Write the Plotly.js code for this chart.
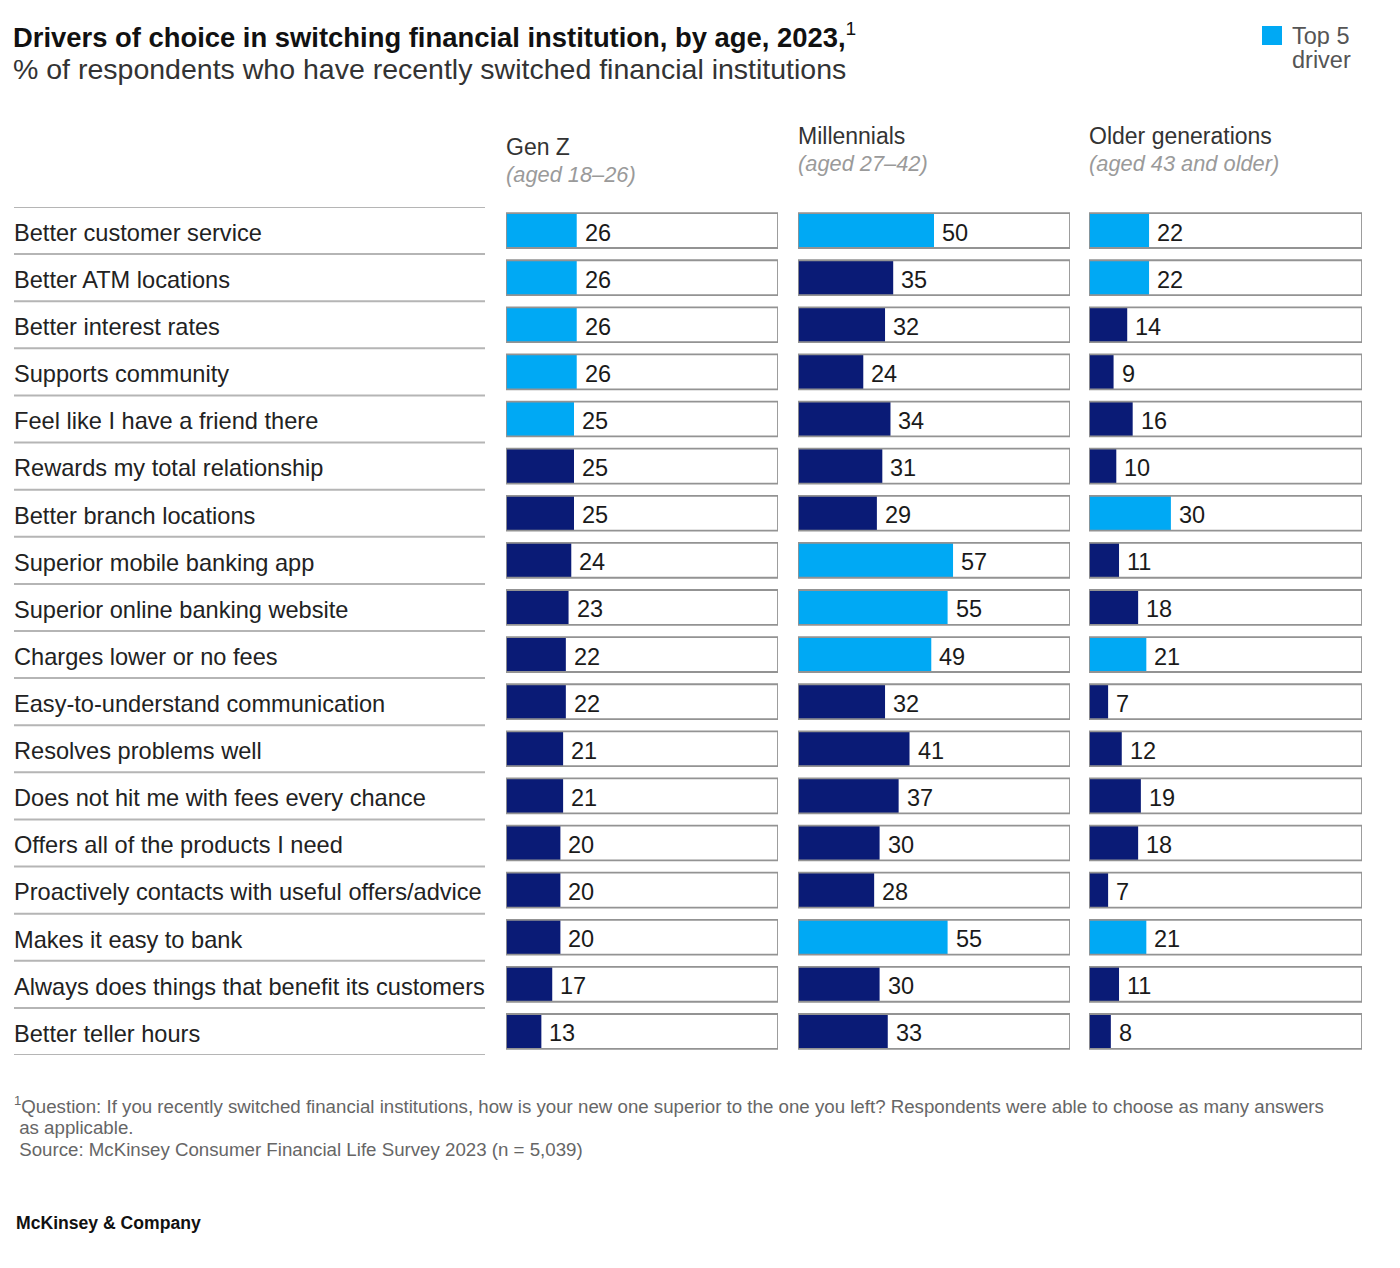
<!DOCTYPE html>
<html><head><meta charset="utf-8">
<script src="https://cdn.plot.ly/plotly-3.0.1.min.js"></script>
<style>html,body{margin:0;padding:0;background:#fff}#chart{width:1400px;height:1268px}</style>
</head><body><div id="chart"></div>
<script>
const categories = ["Better customer service","Better ATM locations","Better interest rates","Supports community","Feel like I have a friend there","Rewards my total relationship","Better branch locations","Superior mobile banking app","Superior online banking website","Charges lower or no fees","Easy-to-understand communication","Resolves problems well","Does not hit me with fees every chance","Offers all of the products I need","Proactively contacts with useful offers/advice","Makes it easy to bank","Always does things that benefit its customers","Better teller hours"];
const genZ = [26,26,26,26,25,25,25,24,23,22,22,21,21,20,20,20,17,13];
const millennials = [50,35,32,24,34,31,29,57,55,49,32,41,37,30,28,55,30,33];
const older = [22,22,14,9,16,10,30,11,18,21,7,12,19,18,7,21,11,8];
const genZTop5 = [1,1,1,1,1,0,0,0,0,0,0,0,0,0,0,0,0,0];
const millTop5 = [1,0,0,0,0,0,0,1,1,1,0,0,0,0,0,1,0,0];
const olderTop5 = [1,1,0,0,0,0,1,0,0,1,0,0,0,0,0,1,0,0];
const groups = ["Gen Z","Millennials","Older generations"];
const groupSub = ["(aged 18–26)","(aged 27–42)","(aged 43 and older)"];
const legendLines = ["Top 5","driver"];
const footnotes = ["<sup>1</sup>Question: If you recently switched financial institutions, how is your new one superior to the one you left? Respondents were able to choose as many answers",
  " as applicable.",
  " Source: McKinsey Consumer Financial Life Survey 2023 (n = 5,039)"];

const W=1400,H=1268;
const px=x=>x/W, py=y=>1-y/H;
const LIGHT="#00a9f4", DARK="#0a1b76";
const FONT="Liberation Sans, Arial, sans-serif";
const panels=[
  {vals:genZ, top:genZTop5, x0:506, x1:778, hy:[147,174]},
  {vals:millennials, top:millTop5, x0:798, x1:1070, hy:[136,164]},
  {vals:older, top:olderTop5, x0:1089, x1:1362, hy:[136,164]}
];
const idx = categories.map((_,i)=>i);
const traces=[], layout={
  width:W,height:H,margin:{l:0,r:0,t:0,b:0},paper_bgcolor:"#fff",plot_bgcolor:"rgba(0,0,0,0)",
  showlegend:false,barmode:"overlay",bargap:0.26,font:{family:FONT,color:"#222"},
  annotations:[],shapes:[]
};
panels.forEach((p,k)=>{
  const xa = k===0?"x":"x"+(k+1), ya = k===0?"y":"y"+(k+1);
  const xk = k===0?"xaxis":"xaxis"+(k+1), yk = k===0?"yaxis":"yaxis"+(k+1);
  layout[xk]={domain:[px(p.x0),px(p.x1)],range:[0,100],visible:false,fixedrange:true,anchor:ya};
  layout[yk]={domain:[py(1055),py(207)],range:[categories.length-0.5,-0.5],visible:false,fixedrange:true,anchor:xa};
  traces.push({type:"bar",orientation:"h",x:idx.map(()=>100),y:idx,xaxis:xa,yaxis:ya,
    marker:{color:"#fff",line:{width:0}},hoverinfo:"skip"});
  traces.push({type:"bar",orientation:"h",x:p.vals,y:idx,xaxis:xa,yaxis:ya,
    marker:{color:p.top.map(t=>t?LIGHT:DARK),line:{width:0}},hoverinfo:"skip"});
  traces.push({type:"bar",orientation:"h",x:idx.map(()=>100),y:idx,xaxis:xa,yaxis:ya,
    marker:{color:"rgba(0,0,0,0)",line:{width:1.8,color:"#939393"}},hoverinfo:"skip"});
  p.vals.forEach((v,i)=>{
    layout.annotations.push({xref:xa,yref:ya,x:v,y:i,xanchor:"left",yanchor:"middle",xshift:6,yshift:-2,
      text:String(v),showarrow:false,font:{size:23.5,color:"#1a1a1a",family:FONT}});
  });
  layout.annotations.push({xref:"paper",yref:"paper",x:px(p.x0-2),y:py(p.hy[0]),xanchor:"left",yanchor:"middle",
    text:groups[k],showarrow:false,font:{size:23,color:"#333",family:FONT}});
  layout.annotations.push({xref:"paper",yref:"paper",x:px(p.x0-2),y:py(p.hy[1]),xanchor:"left",yanchor:"middle",
    text:"<i>"+groupSub[k]+"</i>",showarrow:false,font:{size:21.8,color:"#9a9a9a",family:FONT}});
});
categories.forEach((c,i)=>{
  layout.annotations.push({xref:"paper",yref:"y",x:px(12),y:i+0.05,xanchor:"left",yanchor:"middle",
    text:c,showarrow:false,font:{size:23.6,color:"#222",family:FONT}});
});
for(let i=0;i<=categories.length;i++){
  layout.shapes.push({type:"line",xref:"paper",yref:"y",x0:px(14),x1:px(485),y0:i-0.5,y1:i-0.5,
    line:{color:"#b5b5b5",width:2}});
}
// titles
layout.annotations.push({xref:"paper",yref:"paper",x:px(11),y:py(35),xanchor:"left",yanchor:"middle",showarrow:false,
  text:"<b>Drivers of choice in switching financial institution, by age, 2023,</b><sup>1</sup>",font:{size:27.4,color:"#111",family:FONT}});
layout.annotations.push({xref:"paper",yref:"paper",x:px(11),y:py(69),xanchor:"left",yanchor:"middle",showarrow:false,
  text:"% of respondents who have recently switched financial institutions",font:{size:28.5,color:"#333",family:FONT}});
// legend
layout.shapes.push({type:"rect",xref:"paper",yref:"paper",x0:px(1262),x1:px(1282),y0:py(45),y1:py(26),fillcolor:LIGHT,line:{width:0}});
legendLines.forEach((t,i)=>{
  layout.annotations.push({xref:"paper",yref:"paper",x:px(1290),y:py(36+24*i),xanchor:"left",yanchor:"middle",showarrow:false,
    height:22,valign:"middle",text:t,font:{size:23.5,color:"#555",family:FONT}});
});
// footnotes
footnotes.forEach((t,i)=>{
  layout.annotations.push({xref:"paper",yref:"paper",x:px(12),y:py(1105+22*i),xanchor:"left",yanchor:"middle",showarrow:false,
    text:t,font:{size:18.7,color:"#666",family:FONT}});
});
layout.annotations.push({xref:"paper",yref:"paper",x:px(14),y:py(1223),xanchor:"left",yanchor:"middle",showarrow:false,
  text:"<b>McKinsey & Company</b>",font:{size:17.6,color:"#111",family:FONT}});
Plotly.newPlot("chart",traces,layout,{staticPlot:true,displayModeBar:false});
</script></body></html>
